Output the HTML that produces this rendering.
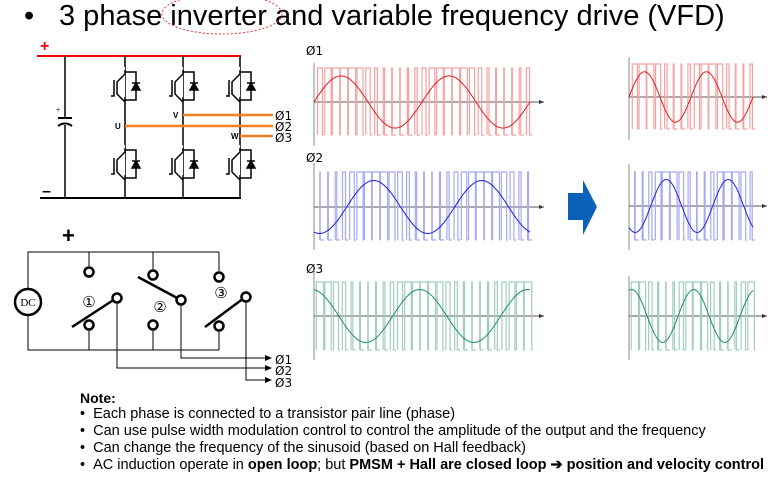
<!DOCTYPE html>
<html><head><meta charset="utf-8"><style>
body{margin:0;width:776px;height:478px;background:#fff;overflow:hidden;font-family:"Liberation Sans",Arial,sans-serif;position:relative}
.t{position:absolute;white-space:nowrap}
</style></head><body>
<div class="t" style="left:24px;top:0px;font-size:29px">•</div>
<div class="t" style="left:59px;top:0px;font-size:29px">3 phase inverter and variable frequency drive (VFD)</div>
<svg width="776" height="478" style="position:absolute;left:0;top:0" xmlns="http://www.w3.org/2000/svg" id="s">
<ellipse cx="222" cy="14" rx="60" ry="20" fill="none" stroke="#e33" stroke-dasharray="2,2" stroke-width="1"/>
<g stroke="#000" stroke-width="1.5" fill="none">
<line x1="37" y1="56" x2="241" y2="56" stroke="#e00" stroke-width="2"/>
<line x1="40" y1="198" x2="241" y2="198" stroke-width="2"/>
<line x1="65" y1="56" x2="65" y2="118"/><line x1="65" y1="125" x2="65" y2="198"/>
<line x1="58" y1="118" x2="72" y2="118" stroke-width="2"/><path d="M58 126 Q65 121 72 126" stroke-width="2"/>
</g>
<text x="40" y="51" fill="#e00" font-size="16" font-weight="bold" font-family="Liberation Sans">+</text>
<text x="42" y="196" font-size="16" font-weight="bold" font-family="Liberation Sans">–</text>
<text x="56" y="112" font-size="7" font-family="Liberation Sans">+</text>
<g id="legs"></g>
<g stroke="#f08020" stroke-width="2.5">
<line x1="183" y1="115" x2="273" y2="115"/><line x1="125" y1="126" x2="273" y2="126"/><line x1="240" y1="136" x2="273" y2="136"/>
</g>
<g font-family="Liberation Sans" font-size="8" font-weight="bold"><text x="115" y="129">U</text><text x="173" y="118">V</text><text x="231" y="139">W</text></g>
<g font-family="DejaVu Sans" font-size="12"><text x="275" y="120">Ø1</text><text x="275" y="131">Ø2</text><text x="275" y="142">Ø3</text></g>
<text x="62" y="243" font-size="22" font-weight="bold" font-family="Liberation Sans">+</text>
<g stroke="#000" stroke-width="1" fill="none">
<path d="M28 289 V252 H219 M89 252 V266 M153 252 V269 M219 252 V271"/>
<path d="M28 315 V350 H219 M89 331 V350 M153 331 V350 M219 332 V350"/>
<path d="M117 304 V368 H265 M181 306 V358 H265 M246 303 V380 H265"/>
</g>
<g fill="#000"><path d="M265 355 l7 3 l-7 3z M265 365 l7 3 l-7 3z M265 377 l7 3 l-7 3z"/></g>
<circle cx="28" cy="302" r="13" fill="#fff" stroke="#000" stroke-width="2.5"/>
<text x="28" y="306" text-anchor="middle" font-size="11" font-family="Liberation Serif">DC</text>
<g stroke="#000" stroke-width="2.5" fill="#fff">
<line x1="72" y1="327" x2="115" y2="299"/><line x1="138" y1="277" x2="179" y2="299"/><line x1="205" y1="327" x2="244" y2="298"/>
<circle cx="89" cy="272" r="4.5"/><circle cx="89" cy="325" r="4.5"/><circle cx="117" cy="298" r="4.5"/>
<circle cx="153" cy="275" r="4.5"/><circle cx="153" cy="325" r="4.5"/><circle cx="181" cy="300" r="4.5"/>
<circle cx="219" cy="277" r="4.5"/><circle cx="219" cy="326" r="4.5"/><circle cx="246" cy="297" r="4.5"/>
</g>
<g font-size="15" font-family="DejaVu Sans" text-anchor="middle"><text x="89" y="307">①</text><text x="160" y="312">②</text><text x="221" y="298">③</text></g>
<g font-family="DejaVu Sans" font-size="12"><text x="275" y="364">Ø1</text><text x="275" y="375">Ø2</text><text x="275" y="387">Ø3</text></g>
<g font-family="DejaVu Sans" font-size="12"><text x="306" y="55">Ø1</text><text x="306" y="162">Ø2</text><text x="306" y="273">Ø3</text></g>
<path d="M568 193 H583 V180 L597 207 L583 235 V220 H568Z" fill="#0a62b8"/>
<g id="w"></g>
</svg>
<div class="t" style="left:80px;top:390px;font-size:14px;font-weight:bold">Note:</div>
<div class="t" style="left:80px;top:406px;font-size:14.5px;line-height:17px">
•&nbsp;&nbsp;Each phase is connected to a transistor pair line (phase)<br>
•&nbsp;&nbsp;Can use pulse width modulation control to control the amplitude of the output and the frequency<br>
•&nbsp;&nbsp;Can change the frequency of the sinusoid (based on Hall feedback)<br>
•&nbsp;&nbsp;AC induction operate in <b>open loop</b>; but <b>PMSM + Hall are closed loop ➔ position and velocity control</b></div>
<script>
var NS="http://www.w3.org/2000/svg";
function el(p,t,a){var e=document.createElementNS(NS,t);for(var k in a)e.setAttribute(k,a[k]);p.appendChild(e);return e;}
var L=document.getElementById("legs");
[125,183,240].forEach(function(x){
 el(L,"line",{x1:x,y1:56,x2:x,y2:198,stroke:"#000","stroke-width":1.5});
 [70,148].forEach(function(y){
  var g=el(L,"g",{stroke:"#000","stroke-width":1.5,fill:"none"});
  el(g,"rect",{x:x-14,y:y-3,width:14,height:30,fill:"#fff",stroke:"none"});
  el(g,"path",{d:"M"+x+" "+(y)+" V"+(y+4)+" L"+(x-8)+" "+(y+12)+" V"+(y+24)+" L"+x+" "+(y+32)+" M"+(x-11)+" "+(y+10)+" V"+(y+26)+" H"+(x-14)});
  el(g,"path",{d:"M"+x+" "+(y+2)+" H"+(x+11)+" V"+(y+30)+" H"+x});
  el(g,"path",{d:"M"+(x+7)+" "+(y+20)+" H"+(x+15)+" L"+(x+11)+" "+(y+13)+"Z M"+(x+7)+" "+(y+13)+" H"+(x+15),fill:"#000"});
 });
});
var W=document.getElementById("w");
function panel(x0,x1,ay,top,bot,yt,yb,col,lc,ph){
 el(W,"line",{x1:x0,y1:yt,x2:x0,y2:yb,stroke:"#888","stroke-width":1});
 el(W,"line",{x1:x0,y1:ay,x2:x1+14,y2:ay,stroke:"#555","stroke-width":1});
 el(W,"path",{d:"M"+(x1+14)+" "+ay+" l-5 -2 v4z",fill:"#333"});
 var w=x1-x0, n=Math.round(w/8), d="", step=w/n, amp=(bot-top)/2*0.78;
 for(var i=0;i<n;i++){
  var xs=x0+2+i*step, m=Math.sin((i+0.5)/n*2*Math.PI*2+ph);
  var dw=step*(0.5+0.45*m), xa=xs+(step-dw)/2;
  d+="M"+xa.toFixed(1)+" "+bot+"V"+top+"H"+(xa+dw).toFixed(1)+"V"+bot+"H"+(xs+step).toFixed(1)+" ";
 }
 el(W,"path",{d:d,stroke:lc,"stroke-width":1.2,fill:"none"});
 var s="";for(var k=0;k<=80;k++){var xx=x0+k/80*w;s+=(k?"L":"M")+xx.toFixed(1)+" "+(ay-amp*Math.sin(k/80*2*Math.PI*2+ph)).toFixed(1);}
 el(W,"path",{d:s,stroke:col,"stroke-width":1,fill:"none"});
}
panel(314,530,102,68,135,63,146,"#e02020","#f7a0a0",0);
panel(314,530,207,172,240,163,250,"#2020e0","#a8a8f5",-1.9);
panel(314,530,316,282,350,270,360,"#209060","#a0d0b8",1.7);
panel(629,753,97,64,129,57,140,"#e02020","#f7a0a0",0);
panel(629,753,206,172,240,164,250,"#2020e0","#a8a8f5",-2.2);
panel(629,753,316,282,350,276,360,"#209060","#a0d0b8",1.3);
</script>
</body></html>
